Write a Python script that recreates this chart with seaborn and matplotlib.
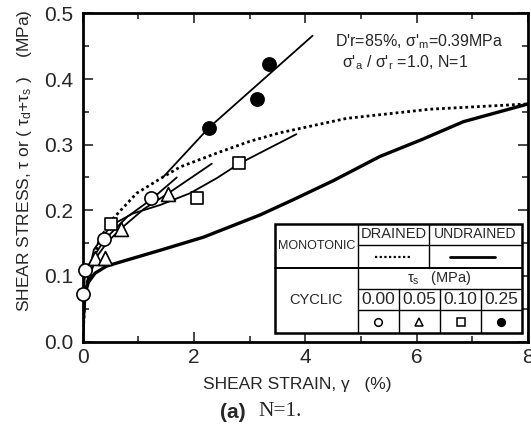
import numpy as np
import pandas as pd
import matplotlib
matplotlib.use("Agg")
import matplotlib.pyplot as plt
import seaborn as sns
from matplotlib.lines import Line2D
from matplotlib.ticker import FixedLocator, FormatStrFormatter

# ---------------- data ----------------
# monotonic undrained (thick solid)
undr_x = [0, 0.02, 0.05, 0.10, 0.22, 0.43, 0.79, 1.39, 2.17, 3.19, 3.78, 4.5, 5.34, 6.1, 6.84, 8.0]
undr_y = [0, 0.05, 0.075, 0.09, 0.104, 0.115, 0.124, 0.139, 0.159, 0.193, 0.216, 0.245, 0.282, 0.308, 0.335, 0.362]
# monotonic drained (dotted)
dr_x = [0, 0.05, 0.15, 0.30, 0.52, 0.97, 1.45, 1.75, 2.47, 3.0, 3.54, 4.74, 6.24, 8.0]
dr_y = [0, 0.08, 0.115, 0.155, 0.185, 0.226, 0.251, 0.266, 0.289, 0.305, 0.318, 0.340, 0.354, 0.362]
# cyclic fitted lines
c00_x = [0, 0.01, 0.05, 0.39, 0.80, 1.24, 1.69]
c00_y = [0, 0.071, 0.109, 0.155, 0.190, 0.217, 0.250]
c05_x = [0, 0.05, 0.24, 0.45, 0.70, 1.10, 1.54, 2.32]
c05_y = [0, 0.08, 0.128, 0.152, 0.173, 0.202, 0.226, 0.271]
c10_x = [0, 0.05, 0.20, 0.51, 0.90, 1.39, 1.93, 2.41, 2.81, 3.84]
c10_y = [0, 0.08, 0.14, 0.177, 0.195, 0.208, 0.226, 0.249, 0.271, 0.316]
c25_x = [1.45, 2.27, 3.20, 4.13]
c25_y = [0.251, 0.326, 0.396, 0.466]
# cyclic test points
p00_x = [0.01, 0.05, 0.38, 1.22]
p00_y = [0.072, 0.109, 0.156, 0.218]
p05_x = [0.22, 0.40, 0.69, 1.54]
p05_y = [0.128, 0.127, 0.172, 0.225]
p10_x = [0.50, 2.05, 2.81]
p10_y = [0.179, 0.219, 0.272]
p25_x = [2.27, 3.13, 3.35]
p25_y = [0.325, 0.370, 0.423]

x_ticks = [0, 2, 4, 6, 8]
y_ticks = [0.0, 0.1, 0.2, 0.3, 0.4, 0.5]
ts_labels = ["0.00", "0.05", "0.10", "0.25"]

# ---------------- style ----------------
sns.set_style("ticks")
FONT = ["Liberation Sans", "DejaVu Sans"]
plt.rcParams["font.family"] = FONT
plt.rcParams["mathtext.fontset"] = "custom"
plt.rcParams["mathtext.rm"] = "Liberation Sans"
plt.rcParams["mathtext.it"] = "Liberation Sans"

W, H = 531, 429
fig = plt.figure(figsize=(W / 100, H / 100), dpi=100)
x0p, x1p, y0p, y1p = 82.7, 528.0, 341.5, 13.4
ax = fig.add_axes([x0p / W, 1 - y0p / H, (x1p - x0p) / W, (y0p - y1p) / H])


def fx(px):
    return px / W


def fy(py):
    return 1 - py / H


def df(x, y):
    return pd.DataFrame({"x": x, "y": y})


# lines
sns.lineplot(data=df(undr_x, undr_y), x="x", y="y", ax=ax, color="black", lw=2.4,
             sort=False, estimator=None)
sns.lineplot(data=df(dr_x, dr_y), x="x", y="y", ax=ax, color="black", lw=2.0,
             linestyle=(0, (1, 1.1)), sort=False, estimator=None)
for lx, ly in [(c00_x, c00_y), (c05_x, c05_y), (c10_x, c10_y), (c25_x, c25_y)]:
    sns.lineplot(data=df(lx, ly), x="x", y="y", ax=ax, color="black", lw=1.3,
                 sort=False, estimator=None)

# markers
mk = dict(ax=ax, edgecolor="black", linewidth=1.2, zorder=5, clip_on=False)
sns.scatterplot(data=df(p00_x, p00_y), x="x", y="y", marker="o", s=90, color="white", **mk)
sns.scatterplot(data=df(p05_x, p05_y), x="x", y="y", marker="^", s=100, color="white", **mk)
sns.scatterplot(data=df(p10_x, p10_y), x="x", y="y", marker="s", s=70, color="white", **mk)
sns.scatterplot(data=df(p25_x, p25_y), x="x", y="y", marker="o", s=90, color="black", **mk)

ax.set_xlim(0, 8)
ax.set_ylim(0, 0.5)
ax.xaxis.set_major_locator(FixedLocator(x_ticks))
ax.xaxis.set_minor_locator(FixedLocator([1, 3, 5, 7]))
ax.yaxis.set_major_locator(FixedLocator(y_ticks))
ax.yaxis.set_minor_locator(FixedLocator([0.05, 0.15, 0.25, 0.35, 0.45]))
ax.yaxis.set_major_formatter(FormatStrFormatter("%.1f"))
ax.tick_params(which="both", direction="in", top=True, right=True, width=1.2, labelsize=15)
ax.tick_params(which="major", length=7)
ax.tick_params(which="minor", length=4)
ax.tick_params(axis="x", pad=5)
ax.tick_params(axis="y", pad=7)
for s in ax.spines.values():
    s.set_linewidth(2.0)
    s.set_color("black")

ax.set_xlabel("SHEAR STRAIN, γ   (%)", fontsize=12.5)
ax.xaxis.set_label_coords((297.5 - x0p) / (x1p - x0p), (y0p - 385) / (y0p - y1p))
ax.xaxis.label.set_va("center")
ax.set_ylabel(r"SHEAR STRESS, τ or ( τ$_d$+τ$_s$ )    (MPa)", fontsize=12.5)
ax.yaxis.set_label_coords((25 - x0p) / (x1p - x0p), (y0p - 161) / (y0p - y1p))
ax.yaxis.label.set_va("center")

# annotation
fig.text(fx(335), fy(42), r"D'r=85%, σ'$_m$=0.39MPa", fontsize=11.5, va="center", ha="left")
fig.text(fx(342), fy(63), r"σ'$_a$ / σ'$_r$ =1.0, N=1", fontsize=11.5, va="center", ha="left")

# ---------------- legend table ----------------
tl, tr, tt, tb = 275.0, 521.5, 224.0, 333.0
r1, r2, r3, r4 = 245.0, 267.5, 288.5, 310.0
c1, c2 = 357.7, 429.3
cols = [357.7, 398.6, 440.0, 481.0, 521.5]


def hline(y, xa, xb, lw=1.0):
    fig.add_artist(Line2D([fx(xa), fx(xb)], [fy(y), fy(y)], color="black", lw=lw, zorder=10))


def vline(x, ya, yb, lw=1.0):
    fig.add_artist(Line2D([fx(x), fx(x)], [fy(ya), fy(yb)], color="black", lw=lw, zorder=10))


fig.add_artist(plt.Rectangle((fx(tl), fy(tb)), fx(tr) - fx(tl), fy(tt) - fy(tb),
                             facecolor="white", edgecolor="black", lw=1.8, zorder=9))
hline(r1, c1, tr)
hline(r2, tl, tr, lw=1.4)
hline(r3, c1, tr)
hline(r4, c1, tr)
vline(c1, tt, tb)
vline(c2, tt, r2)
for c in cols[1:4]:
    vline(c, r3, tb)

tfs = 10.5
fig.text(fx((tl + c1) / 2), fy((tt + r2) / 2), "MONOTONIC", fontsize=9, ha="center", va="center", zorder=11)
fig.text(fx((c1 + c2) / 2), fy((tt + r1) / 2), "DRAINED", fontsize=tfs, ha="center", va="center", zorder=11)
fig.text(fx((c2 + tr) / 2), fy((tt + r1) / 2), "UNDRAINED", fontsize=10, ha="center", va="center", zorder=11)
fig.add_artist(Line2D([fx(375), fx(412)], [fy(256.5), fy(256.5)], color="black", lw=1.6,
                      linestyle=(0, (1, 1.1)), zorder=11))
fig.add_artist(Line2D([fx(450), fx(495)], [fy(256.5), fy(256.5)], color="black", lw=2.0, zorder=11))
fig.text(fx((tl + c1) / 2), fy((r2 + tb) / 2), "CYCLIC", fontsize=tfs, ha="center", va="center", zorder=11)
fig.text(fx((c1 + tr) / 2), fy((r2 + r3) / 2), r"τ$_s$   (MPa)", fontsize=tfs, ha="center", va="center", zorder=11)
sym = [("o", "white"), ("^", "white"), ("s", "white"), ("o", "black")]
for i, lab in enumerate(ts_labels):
    cx = (cols[i] + cols[i + 1]) / 2
    fig.text(fx(cx), fy((r3 + r4) / 2), lab, fontsize=12.5, ha="center", va="center", zorder=11)
    fig.add_artist(Line2D([fx(cx)], [fy((r4 + tb) / 2)], marker=sym[i][0], markersize=5.5,
                          markerfacecolor=sym[i][1], markeredgecolor="black", markeredgewidth=1.1,
                          linestyle="none", zorder=11))

# caption
fig.text(fx(220), fy(412), "(a)", fontsize=15, fontweight="bold", family=["Liberation Sans", "DejaVu Sans"],
         ha="left", va="center")
fig.text(fx(258), fy(412), "N=1.", fontsize=15.5, family=["Liberation Serif", "DejaVu Serif"],
         ha="left", va="center")

fig.savefig("out.png", dpi=100)
